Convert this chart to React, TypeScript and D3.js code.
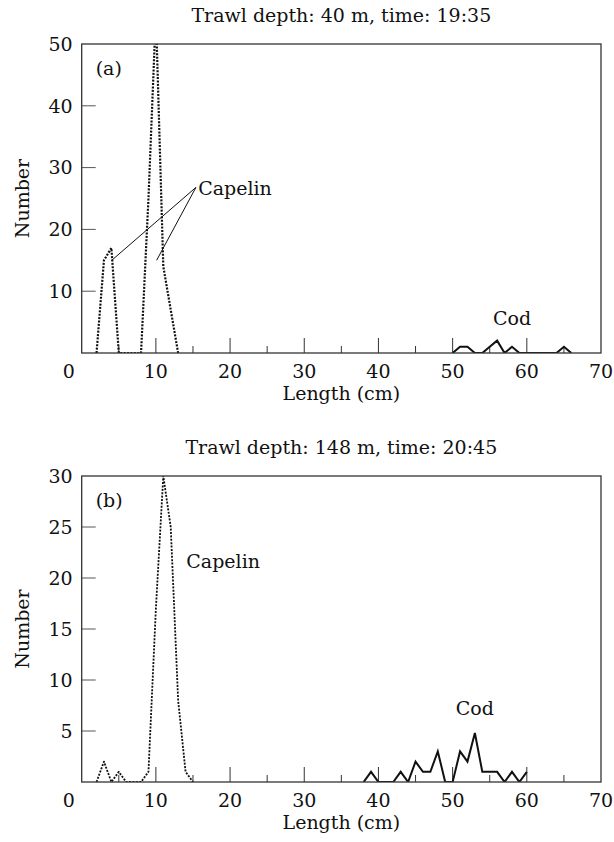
import React from 'react';
import * as d3 from 'd3';

// ---------- data ----------
const lengthTickValues = [5, 10, 15, 20, 25, 30, 35, 40, 45, 50, 55, 60, 65];
const lengthLabelValues = [0, 10, 20, 30, 40, 50, 60, 70];

const numberTicksA = [10, 20, 30, 40, 50];
const numberTicksB = [5, 10, 15, 20, 25, 30];

// Panel (a): trawl depth 40 m, 19:35
const capelinALength = [2, 3, 4, 5, 6, 7, 8, 9, 10, 11, 12, 13];
const capelinANumber = [0, 15, 17, 0, 0, 0, 0, 25, 55, 14, 7, 0];
const codALength = [50, 51, 52, 53, 54, 55, 56, 57, 58, 59, 60, 61, 62, 63, 64, 65, 66];
const codANumber = [0, 1, 1, 0, 0, 1, 2, 0, 1, 0, 0, 0, 0, 0, 0, 1, 0];

// Panel (b): trawl depth 148 m, 20:45
const capelinBLength = [2, 3, 4, 5, 6, 7, 8, 9, 10, 11, 12, 13, 14, 15];
const capelinBNumber = [0, 2, 0, 1, 0, 0, 0, 1, 17, 30, 25, 8, 1, 0];
const codBLength = [38, 39, 40, 41, 42, 43, 44, 45, 46, 47, 48, 49, 50, 51, 52, 53, 54, 55, 56, 57, 58, 59, 60];
const codBNumber = [0, 1, 0, 0, 0, 1, 0, 2, 1, 1, 3, 0, 0, 3, 2, 4.8, 1, 1, 1, 0, 1, 0, 1];

const titleA = 'Trawl depth: 40 m, time: 19:35';
const titleB = 'Trawl depth: 148 m, time: 20:45';

// ---------- layout ----------
const W = 614;
const H = 842;
const FONT = "'DejaVu Serif', serif";
const FS = 19;
const INK = '#111';

type Pt = [number, number];
const zip = (xs: number[], ys: number[]): Pt[] => xs.map((x, i) => [x, ys[i]]);

interface PanelProps {
  id: string;
  top: number;
  bottom: number;
  yMax: number;
  yTicks: number[];
  title: string;
  tag: string;
  capelin: Pt[];
  cod: Pt[];
  capelinWidth: number;
  children?: (x: d3.ScaleLinear<number, number>, y: d3.ScaleLinear<number, number>) => React.ReactNode;
}

const LEFT = 81.7;
const RIGHT = 601;

function Panel({ id, top, bottom, yMax, yTicks, title, tag, capelin, cod, capelinWidth, children }: PanelProps) {
  const x = d3.scaleLinear().domain([0, 70]).range([LEFT, RIGHT]);
  const y = d3.scaleLinear().domain([0, yMax]).range([bottom, top]);
  const line = d3
    .line<Pt>()
    .x((d) => x(d[0]))
    .y((d) => y(d[1]));
  const midX = (LEFT + RIGHT) / 2;
  const midY = (top + bottom) / 2;
  return (
    <g>
      <defs>
        <clipPath id={`clip-${id}`}>
          <rect x={LEFT} y={top} width={RIGHT - LEFT} height={bottom - top} />
        </clipPath>
      </defs>
      {/* title */}
      <text x={midX} y={top - 22} textAnchor="middle" fontFamily={FONT} fontSize={FS} fill={INK}>
        {title}
      </text>
      {/* y ticks */}
      {yTicks.map((t) => (
        <g key={`y${t}`}>
          {t < yMax && <line x1={LEFT} x2={LEFT + 14} y1={y(t)} y2={y(t)} stroke="#555" strokeWidth={1} />}
          <text x={LEFT - 9} y={y(t)} dy="0.36em" textAnchor="end" fontFamily={FONT} fontSize={FS} fill={INK}>
            {t}
          </text>
        </g>
      ))}
      {/* x ticks */}
      {lengthTickValues.map((t) => (
        <line
          key={`x${t}`}
          x1={x(t)}
          x2={x(t)}
          y1={bottom}
          y2={bottom - (t % 10 === 0 ? 15 : 7)}
          stroke="#333"
          strokeWidth={1}
        />
      ))}
      {lengthLabelValues.map((t) => (
        <text
          key={`xl${t}`}
          x={t === 0 ? x(t) - 13 : x(t)}
          y={bottom + 25}
          textAnchor="middle"
          fontFamily={FONT}
          fontSize={FS}
          fill={INK}
        >
          {t}
        </text>
      ))}
      {/* axis titles */}
      <text x={midX} y={bottom + 47} textAnchor="middle" fontFamily={FONT} fontSize={FS} fill={INK}>
        Length (cm)
      </text>
      <text
        transform={`translate(22,${midY}) rotate(-90)`}
        textAnchor="middle"
        dy="0.35em"
        fontFamily={FONT}
        fontSize={FS}
        fill={INK}
      >
        Number
      </text>
      {/* panel tag */}
      <text x={LEFT + 14} y={top + 31} fontFamily={FONT} fontSize={FS} fill={INK}>
        {tag}
      </text>
      {/* data */}
      <g clipPath={`url(#clip-${id})`}>
        <path
          d={line(capelin) || ''}
          fill="none"
          stroke="#111"
          strokeWidth={capelinWidth}
          strokeDasharray="2 1.4"
          strokeLinejoin="round"
        />
        <path d={line(cod) || ''} fill="none" stroke="#111" strokeWidth={2} strokeLinejoin="miter" />
      </g>
      {children && children(x, y)}
      {/* frame */}
      <rect x={LEFT} y={top} width={RIGHT - LEFT} height={bottom - top} fill="none" stroke="#333" strokeWidth={1.3} />
    </g>
  );
}

export default function App() {
  return (
    <svg
      width={W}
      height={H}
      viewBox={`0 0 ${W} ${H}`}
      style={{ position: 'absolute', left: 0, top: 0, background: '#fff' }}
    >
      <rect width={W} height={H} fill="#fff" />
      <Panel
        id="a"
        top={44}
        bottom={353}
        yMax={50}
        yTicks={numberTicksA}
        title={titleA}
        tag="(a)"
        capelin={zip(capelinALength, capelinANumber)}
        cod={zip(codALength, codANumber)}
        capelinWidth={2.2}
      >
        {(x, y) => (
          <g>
            <line x1={x(15.4)} y1={y(26.8)} x2={x(4.05)} y2={y(15)} stroke="#111" strokeWidth={1} />
            <line x1={x(15.4)} y1={y(26.8)} x2={x(10.1)} y2={y(15)} stroke="#111" strokeWidth={1} />
            <text x={x(15.7)} y={y(25.6)} fontFamily={FONT} fontSize={FS} fill={INK}>
              Capelin
            </text>
            <text x={x(58)} y={y(4.5)} textAnchor="middle" fontFamily={FONT} fontSize={FS} fill={INK}>
              Cod
            </text>
          </g>
        )}
      </Panel>
      <Panel
        id="b"
        top={476}
        bottom={782}
        yMax={30}
        yTicks={numberTicksB}
        title={titleB}
        tag="(b)"
        capelin={zip(capelinBLength, capelinBNumber)}
        cod={zip(codBLength, codBNumber)}
        capelinWidth={1.8}
      >
        {(x, y) => (
          <g>
            <text x={x(14.1)} y={y(21)} fontFamily={FONT} fontSize={FS} fill={INK}>
              Capelin
            </text>
            <text x={x(53)} y={y(6.6)} textAnchor="middle" fontFamily={FONT} fontSize={FS} fill={INK}>
              Cod
            </text>
          </g>
        )}
      </Panel>
    </svg>
  );
}
